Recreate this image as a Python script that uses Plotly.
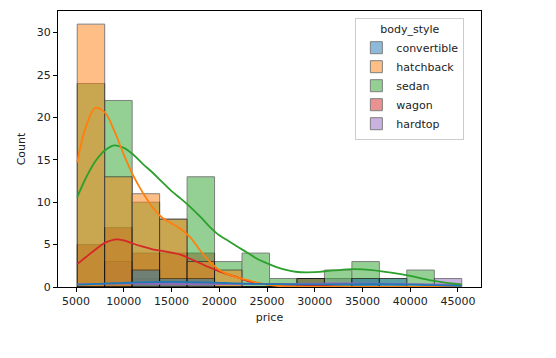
import numpy as np
import plotly.graph_objects as go

# ---------------- data ----------------
price_min = 5118
price_max = 45400
n_bins = 14

body_styles = ["convertible", "hatchback", "sedan", "wagon", "hardtop"]
colors = {"convertible": "#1f77b4", "hatchback": "#ff7f0e", "sedan": "#2ca02c",
          "wagon": "#d62728", "hardtop": "#9467bd"}

counts_convertible = [0, 0, 2, 1, 1, 0, 0, 0, 0, 0, 1, 1, 0, 0]
counts_hatchback = [31, 13, 11, 8, 3, 2, 0, 0, 0, 0, 0, 0, 0, 0]
counts_sedan = [24, 22, 10, 8, 13, 3, 4, 1, 1, 2, 3, 1, 2, 0]
counts_wagon = [5, 7, 4, 4, 4, 0, 0, 0, 1, 0, 0, 0, 0, 0]
counts_hardtop = [0, 3, 1, 0, 0, 0, 0, 0, 1, 1, 1, 0, 0, 1]

# KDE curves (count scale)
kde_price = [5118, 6000, 7000, 8000, 9000, 10000, 11000, 12000, 13000, 14000,
             15000, 16000, 17000, 18000, 19000, 20000, 21000, 22000, 23000,
             24000, 25000, 26000, 28000, 30000, 32000, 34000, 36000, 38000,
             40000, 42000, 44000, 45400]
kde_hatchback = [14.7, 18.8, 21.1, 20.6, 18.4, 15.6, 13.1, 11.1, 9.4, 8.2,
                 7.5, 6.8, 5.8, 4.3, 3.0, 2.0, 1.45, 1.1, 0.8,
                 0.5, 0.3, 0.15, 0.05, 0.02, 0.01, 0.0, 0.0, 0.0,
                 0.0, 0.0, 0.0, 0.0]
kde_sedan = [10.6, 12.8, 14.8, 16.1, 16.7, 16.4, 15.6, 14.5, 13.5, 12.4,
             11.3, 10.4, 9.4, 8.3, 7.1, 6.1, 5.4, 4.7, 4.0,
             3.3, 2.8, 2.35, 1.8, 1.75, 1.95, 2.1, 2.0, 1.7,
             1.3, 0.8, 0.45, 0.3]
kde_wagon = [2.7, 3.5, 4.4, 5.2, 5.6, 5.5, 5.1, 4.75, 4.45, 4.25,
             4.05, 3.8, 3.3, 2.8, 2.3, 1.85, 1.45, 1.1, 0.7,
             0.45, 0.3, 0.25, 0.25, 0.2, 0.08, 0.02, 0.0, 0.0,
             0.0, 0.0, 0.0, 0.0]
kde_convertible = [0.27, 0.31, 0.36, 0.4, 0.44, 0.48, 0.52, 0.55, 0.57, 0.59,
                   0.6, 0.59, 0.57, 0.55, 0.52, 0.49, 0.45, 0.42, 0.39,
                   0.37, 0.35, 0.33, 0.31, 0.3, 0.31, 0.32, 0.33, 0.31,
                   0.28, 0.23, 0.17, 0.14]
kde_hardtop = [0.3, 0.33, 0.36, 0.39, 0.4, 0.4, 0.4, 0.39, 0.38, 0.37,
               0.36, 0.35, 0.34, 0.33, 0.33, 0.33, 0.33, 0.33, 0.34,
               0.34, 0.35, 0.36, 0.38, 0.4, 0.41, 0.41, 0.4, 0.38,
               0.35, 0.31, 0.27, 0.25]

x_ticks = [5000, 10000, 15000, 20000, 25000, 30000, 35000, 40000, 45000]
y_ticks = [0, 5, 10, 15, 20, 25, 30]

counts = {"convertible": counts_convertible, "hatchback": counts_hatchback,
          "sedan": counts_sedan, "wagon": counts_wagon, "hardtop": counts_hardtop}
kdes = {"convertible": kde_convertible, "hatchback": kde_hatchback,
        "sedan": kde_sedan, "wagon": kde_wagon, "hardtop": kde_hardtop}

# ---------------- figure ----------------
edges = np.linspace(price_min, price_max, n_bins + 1)
centers = (edges[:-1] + edges[1:]) / 2
binw = edges[1] - edges[0]

fig = go.Figure()
for bs in reversed(body_styles):
    fig.add_trace(go.Bar(
        x=centers, y=counts[bs], width=binw, name=bs,
        marker=dict(color=colors[bs], line=dict(color="black", width=1)),
        opacity=0.5, legendgroup=bs))
for bs in reversed(body_styles):
    fig.add_trace(go.Scatter(
        x=kde_price, y=kdes[bs], mode="lines", showlegend=False,
        line=dict(color=colors[bs], width=1.8, shape="spline", smoothing=1.0)))

span = price_max - price_min
ymax = max(max(v) for v in counts.values())
font = dict(family="DejaVu Sans", size=11, color="#222222")

# the page has an 8px body margin, so the figure is sized 548x350
fig.update_layout(
    width=548, height=350,
    margin=dict(l=50, r=75, t=3, b=71),
    barmode="overlay",
    plot_bgcolor="white", paper_bgcolor="white",
    font=font,
    legend=dict(
        title=dict(text="body_style", side="top center", font=font),
        traceorder="reversed",
        x=0.703, y=0.975, xanchor="left", yanchor="top",
        bgcolor="white", bordercolor="#cccccc", borderwidth=1,
        font=font, itemwidth=30, tracegroupgap=0,
    ),
    xaxis=dict(
        range=[price_min - 0.05 * span, price_max + 0.05 * span],
        tickvals=x_ticks, ticktext=[str(t) for t in x_ticks],
        showgrid=False, zeroline=False,
        showline=True, mirror=True, linecolor="black", linewidth=1,
        ticks="outside", ticklen=4, tickcolor="black", tickwidth=1,
        title=dict(text="price", standoff=6, font=font),
    ),
    yaxis=dict(
        range=[0, ymax * 1.05],
        tickvals=y_ticks,
        showgrid=False, zeroline=False,
        showline=True, mirror=True, linecolor="black", linewidth=1,
        ticks="outside", ticklen=4, tickcolor="black", tickwidth=1,
        title=dict(text="Count", standoff=8, font=font),
    ),
)

fig.write_html("out.html")
